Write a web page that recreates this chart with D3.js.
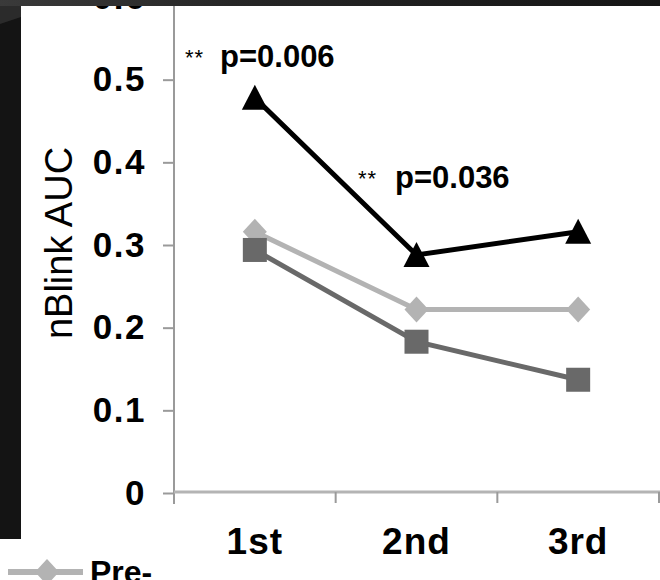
<!DOCTYPE html>
<html>
<head>
<meta charset="utf-8">
<script src="https://cdn.jsdelivr.net/npm/d3@7/dist/d3.min.js"></script>
<style>
  html, body { margin: 0; padding: 0; background: #141414; }
  svg { display: block; }
  text { font-family: "Liberation Sans", Arial, Helvetica, sans-serif; }
</style>
</head>
<body>
<svg id="chart" width="660" height="580"></svg>
<script>
// ---- data ----
const categories = ["1st", "2nd", "3rd"];
const seriesNames = ["Pre-", "Post-", "Follow-up"];
const preValues = [0.316, 0.222, 0.222];        // light gray diamonds
const midValues = [0.294, 0.183, 0.137];        // dark gray squares
const highValues = [0.478, 0.288, 0.316];       // black triangles
const yTicks = [0, 0.1, 0.2, 0.3, 0.4, 0.5, 0.6];
const yTickLabels = ["0", "0.1", "0.2", "0.3", "0.4", "0.5", "0.6"];
const annotations = [
  { stars: "**", text: "p=0.006" },
  { stars: "**", text: "p=0.036" }
];
const legendLabels = ["Pre-"];
const yAxisTitle = "nBlink AUC";

// ---- setup ----
const W = 660, H = 580;
const svg = d3.select("#chart");
const defs = svg.append("defs");
const grad = defs.append("linearGradient").attr("id", "topband")
  .attr("x1", "0").attr("y1", "0").attr("x2", "1").attr("y2", "0");
grad.append("stop").attr("offset", "0").attr("stop-color", "#3a3a3a");
grad.append("stop").attr("offset", "0.35").attr("stop-color", "#262626");
grad.append("stop").attr("offset", "1").attr("stop-color", "#151515");

// background
svg.append("rect").attr("width", W).attr("height", H).attr("fill", "#141414");
svg.append("rect").attr("x", 21).attr("y", 6).attr("width", W - 21).attr("height", H - 6).attr("fill", "#fff");
svg.append("rect").attr("x", 0).attr("y", 539).attr("width", 21).attr("height", H - 539).attr("fill", "#fff");

const x = d3.scaleBand().domain(categories).range([174, 659]).padding(0);
const y = d3.scaleLinear().domain([0, 0.6]).range([493, -3]);

const axisColor = "#9a9a9a";

// Y axis
const yAxis = d3.axisLeft(y).tickValues(yTicks)
  .tickFormat((d, i) => yTickLabels[i]).tickSize(11).tickPadding(17);
const gy = svg.append("g").attr("transform", "translate(174,0)").call(yAxis);
gy.select(".domain").remove();
gy.selectAll(".tick line").attr("stroke", axisColor).attr("stroke-width", 2);
gy.selectAll(".tick text")
  .attr("font-size", 35).attr("font-weight", "bold").attr("fill", "#000")
  .attr("letter-spacing", 1.5)
  .style("font-family", '"Liberation Sans", Arial, sans-serif');
svg.append("line").attr("x1", 174).attr("x2", 174).attr("y1", 0).attr("y2", 504)
  .attr("stroke", axisColor).attr("stroke-width", 2);

// X axis
const xAxis = d3.axisBottom(x).tickSize(0).tickPadding(36);
const gx = svg.append("g").attr("transform", "translate(0,492)").call(xAxis);
gx.select(".domain").remove();
gx.selectAll(".tick text")
  .attr("font-size", 37).attr("font-weight", "bold").attr("fill", "#000")
  .attr("letter-spacing", 1)
  .style("font-family", '"Liberation Sans", Arial, sans-serif');
svg.append("line").attr("x1", 174).attr("x2", 660).attr("y1", 492).attr("y2", 492)
  .attr("stroke", "#b4b4b4").attr("stroke-width", 3);
const boundaries = categories.map(c => x(c) + x.bandwidth());
svg.selectAll(".xb").data(boundaries).enter().append("line")
  .attr("x1", d => d).attr("x2", d => d).attr("y1", 492).attr("y2", 503)
  .attr("stroke", axisColor).attr("stroke-width", 2);

// Y title
svg.append("text").attr("transform", "translate(72,243) rotate(-90)")
  .attr("text-anchor", "middle").attr("font-size", 38).attr("fill", "#000")
  .text(yAxisTitle);

// series
const cx = c => x(c) + x.bandwidth() / 2;
const lineGen = d3.line().x((d, i) => cx(categories[i])).y(d => y(d));

function drawSeries(values, color, shape) {
  svg.append("path").datum(values).attr("d", lineGen)
    .attr("fill", "none").attr("stroke", color).attr("stroke-width", 5);
  const g = svg.append("g");
  values.forEach((v, i) => {
    const px = cx(categories[i]), py = y(v);
    if (shape === "diamond") {
      g.append("path").attr("d", `M${px},${py - 13}L${px + 12},${py}L${px},${py + 13}L${px - 12},${py}Z`).attr("fill", color);
    } else if (shape === "square") {
      g.append("rect").attr("x", px - 12).attr("y", py - 12).attr("width", 24).attr("height", 24).attr("fill", color);
    } else {
      g.append("path").attr("d", `M${px},${py - 13}L${px + 13},${py + 12}L${px - 13},${py + 12}Z`).attr("fill", color);
    }
  });
}
drawSeries(preValues, "#b3b3b3", "diamond");
drawSeries(midValues, "#696969", "square");
drawSeries(highValues, "#000", "triangle");

// annotations
const annPos = [
  { sx: 185, tx: 220, base: 67 },
  { sx: 358, tx: 395, base: 188 }
];
annotations.forEach((a, i) => {
  const p = annPos[i];
  svg.append("text").attr("x", p.sx).attr("y", p.base - 2).attr("font-size", 22)
    .attr("fill", "#000").attr("letter-spacing", 1).text(a.stars);
  svg.append("text").attr("x", p.tx).attr("y", p.base).attr("font-size", 31)
    .attr("font-weight", "bold").attr("fill", "#000").text(a.text);
});

// legend (partially visible)
svg.append("line").attr("x1", 8).attr("x2", 83).attr("y1", 572).attr("y2", 572)
  .attr("stroke", "#b3b3b3").attr("stroke-width", 6);
svg.append("path").attr("d", `M47,559L59,572L47,585L35,572Z`).attr("fill", "#b3b3b3");
svg.append("text").attr("x", 90).attr("y", 583).attr("font-size", 32)
  .attr("font-weight", "bold").attr("fill", "#000").text(legendLabels[0]);

// top dark band
svg.append("rect").attr("x", 0).attr("y", 0).attr("width", W).attr("height", 6).attr("fill", "url(#topband)");
svg.append("path").attr("d", "M0,6L21,6L21,17L0,24Z").attr("fill", "#2b2b2b");
</script>
</body>
</html>
